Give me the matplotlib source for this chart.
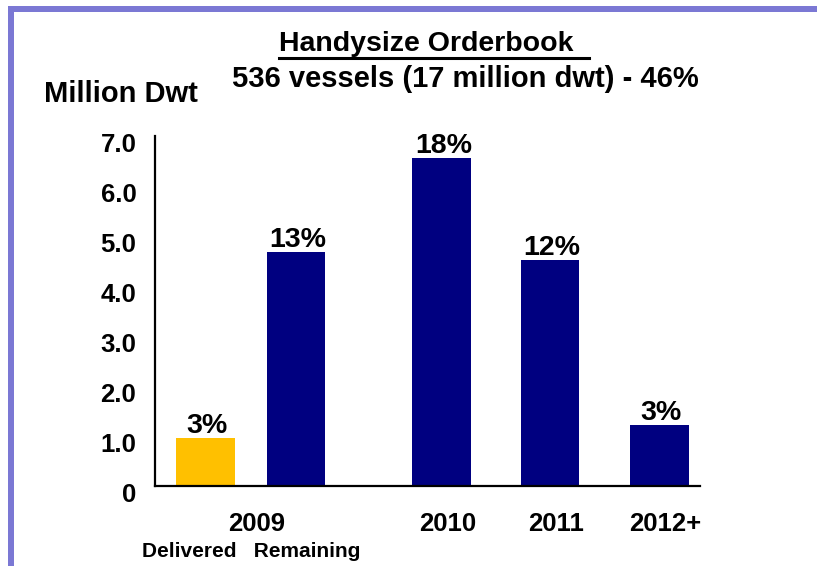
import matplotlib
matplotlib.use("Agg")
import matplotlib.pyplot as plt
from matplotlib.patches import Rectangle
from matplotlib.lines import Line2D
from matplotlib.transforms import ScaledTranslation

# data (million dwt)
categories = ["Delivered", "Remaining", "2010", "2011", "2012+"]
values = [0.96, 4.68, 6.56, 4.52, 1.22]
pct_labels = ["3%", "13%", "18%", "12%", "3%"]
year_labels = ["2009", "2010", "2011", "2012+"]
ytick_labels = ["0", "1.0", "2.0", "3.0", "4.0", "5.0", "6.0", "7.0"]

# layout
positions = [0, 0.83, 2.165, 3.16, 4.165]
year_pos = [0.415, 2.165, 3.16, 4.165]
bar_colors = ["#FFC000", "#000080", "#000080", "#000080", "#000080"]
W, H = 817, 566

plt.rcParams["font.family"] = ["Liberation Sans", "DejaVu Sans"]
plt.rcParams["font.weight"] = "bold"

fig = plt.figure(figsize=(W / 100, H / 100), dpi=100)
ax = fig.add_axes([155 / W, 1 - 486 / H, (700 - 155) / W, (486 - 136) / H])

ax.bar(positions, values, width=0.537, color=bar_colors, zorder=2)
ax.set_xlim(-0.463, 4.537)
ax.set_ylim(0, 7)

for sp in ["top", "right"]:
    ax.spines[sp].set_visible(False)
for sp in ["left", "bottom"]:
    ax.spines[sp].set_linewidth(1.6)
    ax.spines[sp].set_color("black")

ax.set_yticks(range(len(ytick_labels)))
ax.set_yticklabels(ytick_labels, fontsize=18.5, fontweight="bold")
ax.tick_params(axis="y", length=0, pad=13.5)
shift = ScaledTranslation(0, -6 / 100, fig.dpi_scale_trans)
for lab in ax.get_yticklabels():
    lab.set_transform(lab.get_transform() + shift)

ax.set_xticks([])

# value labels above the bars
for x, v, lab in zip(positions, values, pct_labels):
    ax.annotate(lab, xy=(x, v), xytext=(2, 5), textcoords="offset pixels",
                ha="center", va="baseline", fontsize=20.5, fontweight="bold")

# category labels below the axis
for x, lab in zip(year_pos, year_labels):
    ax.annotate(lab, xy=(x, 0), xycoords=("data", "axes fraction"),
                xytext=(6, -45), textcoords="offset pixels",
                ha="center", va="baseline", fontsize=18.5, fontweight="bold")
ax.annotate("Delivered   Remaining", xy=(year_pos[0], 0),
            xycoords=("data", "axes fraction"), xytext=(0, -71),
            textcoords="offset pixels", ha="center", va="baseline",
            fontsize=15, fontweight="bold")

# titles
title = fig.text(279 / W, 1 - 51 / H, "Handysize Orderbook  ", ha="left",
                 va="baseline", fontsize=20.5, fontweight="bold")
fig.text(232 / W, 1 - 87 / H, "536 vessels (17 million dwt) - 46%", ha="left",
         va="baseline", fontsize=21, fontweight="bold")
fig.text(44 / W, 1 - 102 / H, "Million Dwt", ha="left", va="baseline",
         fontsize=21, fontweight="bold")

# underline the title
fig.canvas.draw()
bb = title.get_window_extent(fig.canvas.get_renderer())
fig.add_artist(Line2D([bb.x0 / W, bb.x1 / W], [1 - 58 / H, 1 - 58 / H],
                      color="black", linewidth=2.2, transform=fig.transFigure))

# purple frame at top and left
frame = "#7B78D4"
fig.add_artist(Rectangle((8 / W, 0), 6 / W, 1 - 6 / H, color=frame,
                         transform=fig.transFigure, lw=0))
fig.add_artist(Rectangle((8 / W, 1 - 12 / H), 1, 6 / H, color=frame,
                         transform=fig.transFigure, lw=0))

fig.savefig("out.png", dpi=100, facecolor="white")
